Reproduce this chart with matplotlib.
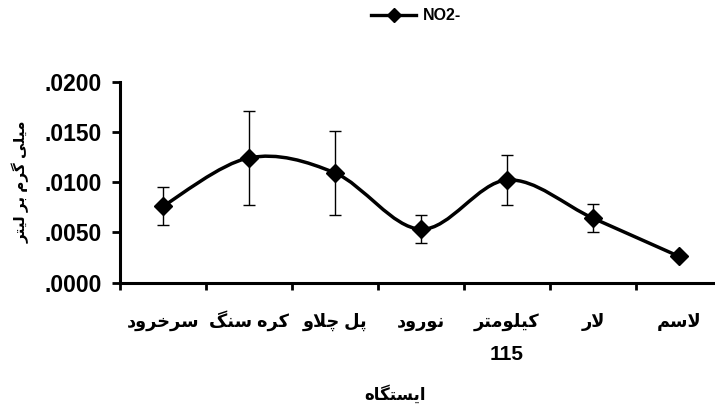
import numpy as np
import matplotlib
matplotlib.use('Agg')
import matplotlib.pyplot as plt
from matplotlib.path import Path
from matplotlib.patches import PathPatch
from matplotlib.lines import Line2D
from matplotlib.ticker import FuncFormatter, MultipleLocator
from matplotlib.transforms import blended_transform_factory

plt.rcParams['font.family'] = ['Liberation Sans', 'DejaVu Sans']
plt.rcParams['font.weight'] = 'bold'

# station names (logical order) and NO2- concentrations, mg/L
stations = ['سرخرود', 'کره سنگ', 'پل چلاو', 'نورود', 'کیلومتر\n115', 'لار', 'لاسم']
no2_mean = [0.0076, 0.0124, 0.0109, 0.0053, 0.0102, 0.0064, 0.0026]
no2_err = [0.0019, 0.0047, 0.0042, 0.0014, 0.0025, 0.0014, 0.0002]
y_ticks = [0.0, 0.005, 0.010, 0.015, 0.020]

x_title = 'ایستگاه'
y_title = 'میلی گرم بر لیتر'
series_name = 'NO2-'


# --- minimal Persian shaping (matplotlib has no complex text layout) ---
# isolated, final, initial, medial
FORMS = {
    'ا': (0xFE8D, 0xFE8E, None, None),
    'ب': (0xFE8F, 0xFE90, 0xFE91, 0xFE92),
    'پ': (0xFB56, 0xFB57, 0xFB58, 0xFB59),
    'ت': (0xFE95, 0xFE96, 0xFE97, 0xFE98),
    'چ': (0xFB7A, 0xFB7B, 0xFB7C, 0xFB7D),
    'خ': (0xFEA5, 0xFEA6, 0xFEA7, 0xFEA8),
    'د': (0xFEA9, 0xFEAA, None, None),
    'ر': (0xFEAD, 0xFEAE, None, None),
    'س': (0xFEB1, 0xFEB2, 0xFEB3, 0xFEB4),
    'ل': (0xFEDD, 0xFEDE, 0xFEDF, 0xFEE0),
    'م': (0xFEE1, 0xFEE2, 0xFEE3, 0xFEE4),
    'ن': (0xFEE5, 0xFEE6, 0xFEE7, 0xFEE8),
    'ه': (0xFEE9, 0xFEEA, 0xFEEB, 0xFEEC),
    'و': (0xFEED, 0xFEEE, None, None),
    'ک': (0xFB8E, 0xFB8F, 0xFB90, 0xFB91),
    'گ': (0xFB92, 0xFB93, 0xFB94, 0xFB95),
    'ی': (0xFBFC, 0xFBFD, 0xFBFE, 0xFBFF),
}
LAM_ALEF = (0xFEFB, 0xFEFC)


def joins_forward(ch):
    return ch in FORMS and FORMS[ch][2] is not None


def shape_line(text):
    if not any(c in FORMS for c in text):
        return text
    out = []
    i = 0
    n = len(text)
    while i < n:
        ch = text[i]
        if ch not in FORMS:
            out.append(ch)
            i += 1
            continue
        prev = text[i - 1] if i > 0 else ''
        linked_prev = joins_forward(prev)
        if ch == 'ل' and i + 1 < n and text[i + 1] == 'ا':
            out.append(chr(LAM_ALEF[1] if linked_prev else LAM_ALEF[0]))
            i += 2
            continue
        nxt = text[i + 1] if i + 1 < n else ''
        linked_next = joins_forward(ch) and nxt in FORMS
        iso, fin, ini, med = FORMS[ch]
        if linked_prev and linked_next:
            code = med
        elif linked_prev:
            code = fin
        elif linked_next:
            code = ini
        else:
            code = iso
        out.append(chr(code))
        i += 1
    return ''.join(reversed(out))


def fa(text):
    return '\n'.join(shape_line(line) for line in text.split('\n'))


def smooth_path(xs, ys):
    # cubic Bezier through the points, Catmull-Rom style tangents
    pts = np.column_stack([xs, ys]).astype(float)
    verts = [pts[0]]
    codes = [Path.MOVETO]
    for k in range(len(pts) - 1):
        p0 = pts[k - 1] if k > 0 else pts[k]
        p1 = pts[k]
        p2 = pts[k + 1]
        p3 = pts[k + 2] if k + 2 < len(pts) else pts[k + 1]
        c1 = p1 + (p2 - p0) / 6.0
        c2 = p2 - (p3 - p1) / 6.0
        verts += [c1, c2, p2]
        codes += [Path.CURVE4] * 3
    return Path(verts, codes)


fig = plt.figure(figsize=(7.15, 4.07), dpi=100)
W, H = 715.0, 407.0
ax = fig.add_axes([120 / W, 1 - 282.5 / H, 602 / W, 201 / H])

x = np.arange(len(stations))

ax.add_patch(PathPatch(smooth_path(x, no2_mean), fill=False, lw=2.5,
                       color='black', capstyle='round', joinstyle='round', zorder=3))
ax.errorbar(x, no2_mean, yerr=no2_err, fmt='none', ecolor='black',
            elinewidth=1.0, capsize=4.3, capthick=1.0, zorder=2)
ax.plot(x, no2_mean, linestyle='none', marker='D', markersize=8.8,
        color='black', zorder=4)

ax.set_xlim(-0.5, len(stations) - 0.5)
ax.set_ylim(0, 0.02)
ax.set_yticks(y_ticks)
ax.yaxis.set_major_formatter(FuncFormatter(lambda v, p: ('%.4f' % v)[1:]))

# first line of each name as the tick label, a second line (km number) below it
ax.set_xticks(x)
ax.set_xticklabels([fa(s.split('\n')[0]) for s in stations], fontsize=12.8,
                   fontweight='bold', va='baseline')
trans = blended_transform_factory(ax.transData, fig.transFigure)
for i, s in enumerate(stations):
    parts = s.split('\n')
    if len(parts) > 1:
        ax.text(i, 1 - 360 / H, parts[1], transform=trans, ha='center',
                va='baseline', fontsize=15, fontweight='bold')

ax.xaxis.set_minor_locator(MultipleLocator(1, offset=0.5))
ax.tick_params(axis='x', which='major', length=0, pad=32)
ax.tick_params(axis='x', which='minor', length=5, width=2, direction='out')
ax.tick_params(axis='y', length=6, width=2, direction='out', pad=7,
               labelsize=16.5)
for lab in ax.get_yticklabels():
    lab.set_fontweight('bold')

for side in ['top', 'right']:
    ax.spines[side].set_visible(False)
for side in ['left', 'bottom']:
    ax.spines[side].set_linewidth(2.2)

fig.text(395 / W, 1 - 400 / H, fa(x_title), ha='center', va='baseline',
         fontsize=12, fontweight='bold')
fig.text(21 / W, 1 - 182 / H, fa(y_title), ha='center', va='center',
         rotation=90, fontsize=11, fontweight='bold')

handle = Line2D([], [], color='black', lw=2.4, marker='D', markersize=7.5)
fig.legend([handle], [series_name], loc='center', bbox_to_anchor=(416 / W, 1 - 16 / H),
           frameon=False, prop={'weight': 'bold', 'size': 11.5}, handlelength=2.8,
           handletextpad=0.4)

fig.savefig('out.png', dpi=100)
